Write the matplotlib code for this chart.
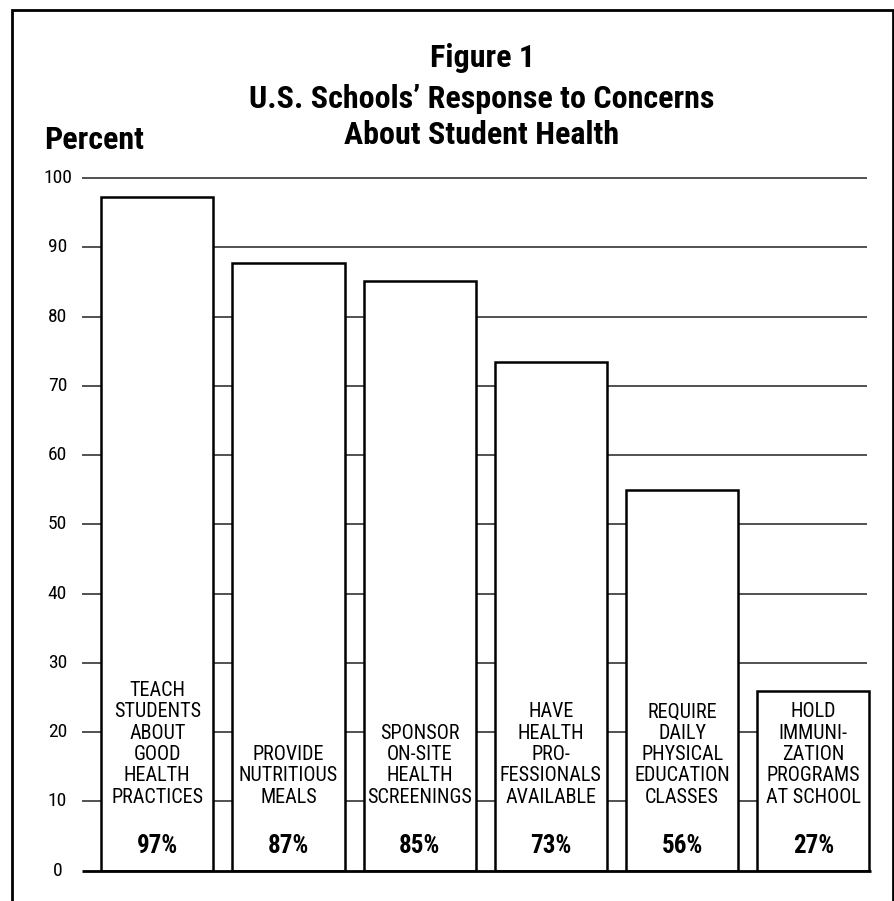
import matplotlib
matplotlib.use("Agg")
import matplotlib.pyplot as plt
from matplotlib import font_manager
from matplotlib.patches import Rectangle

# ---- data ----
categories = [
    ["TEACH", "STUDENTS", "ABOUT", "GOOD", "HEALTH", "PRACTICES"],
    ["PROVIDE", "NUTRITIOUS", "MEALS"],
    ["SPONSOR", "ON-SITE", "HEALTH", "SCREENINGS"],
    ["HAVE", "HEALTH", "PRO-", "FESSIONALS", "AVAILABLE"],
    ["REQUIRE", "DAILY", "PHYSICAL", "EDUCATION", "CLASSES"],
    ["HOLD", "IMMUNI-", "ZATION", "PROGRAMS", "AT SCHOOL"],
]
bar_heights = [97.3, 87.8, 85.1, 73.5, 55.0, 26.0]
value_labels = ["97%", "87%", "85%", "73%", "56%", "27%"]
y_ticks = [0, 10, 20, 30, 40, 50, 60, 70, 80, 90, 100]
title_lines = ["Figure 1", "U.S. Schools\u2019 Response to Concerns", "About Student Health"]
y_label = "Percent"

# ---- font selection ----
avail = {f.name for f in font_manager.fontManager.ttflist}
narrow = None
for cand in ["Liberation Sans Narrow", "Roboto Condensed", "Open Sans Condensed",
             "DejaVu Sans Condensed", "Liberation Sans", "Roboto"]:
    if cand in avail:
        narrow = cand
        break
if narrow is None:
    narrow = "DejaVu Sans"
plt.rcParams['font.family'] = [narrow, 'DejaVu Sans']

W, H = 894, 901
fig = plt.figure(figsize=(W / 100, H / 100), dpi=100)
fig.patch.set_facecolor("white")

# axes placed in pixel geometry
ax_left, ax_right = 82, 871
ax_top, ax_bottom = 178, 870.7
ax = fig.add_axes([ax_left / W, (H - ax_bottom) / H,
                   (ax_right - ax_left) / W, (ax_bottom - ax_top) / H])
ax.set_facecolor("none")

n = len(bar_heights)
x = list(range(n))
xmin, xmax = -0.574, 5.44
ax.set_xlim(xmin, xmax)
ax.set_ylim(0, 100)
for s in ax.spines.values():
    s.set_visible(False)
ax.set_xticks([])
ax.set_yticks([])

# gridlines
ax.hlines(y_ticks[1:], xmin, 5.41, colors="#222222", linewidth=1.1, zorder=1, clip_on=False)
# baseline
ax.hlines([0], xmin, xmax, colors="black", linewidth=2.0, zorder=4, clip_on=False)

# bars
ax.bar(x, bar_heights, width=0.855, color="white", edgecolor="black",
       linewidth=1.8, zorder=3)

# y tick labels, centered
for t in y_ticks:
    ax.text(-0.761, t, str(t), ha="center", va="center", fontsize=14,
            color="black", clip_on=False)

# labels inside bars
pitch = 3.08
base = 9.8
for i, lines in enumerate(categories):
    k = len(lines)
    for j, line in enumerate(lines):
        ax.text(x[i], base + (k - 1 - j) * pitch, line, ha="center", va="baseline",
                fontsize=14.5, color="black", zorder=5)
    ax.text(x[i], 2.56, value_labels[i], ha="center", va="baseline",
            fontsize=18, fontweight="bold", color="black", zorder=5)

# title
title_baselines = [67, 108, 144]
for line, yb in zip(title_lines, title_baselines):
    fig.text(482 / W, (H - yb) / H, line, ha="center", va="baseline",
             fontsize=23, fontweight="bold", color="black")

fig.text(44 / W, (H - 149) / H, y_label, ha="left", va="baseline",
         fontsize=23, fontweight="bold", color="black")

# frame
fig.patches.append(Rectangle((12 / W, -0.1), (892.5 - 12) / W, 0.1 + (H - 10) / H,
                             transform=fig.transFigure, fill=False,
                             edgecolor="black", linewidth=2.0, clip_on=False))

fig.savefig("out.png", dpi=100)
